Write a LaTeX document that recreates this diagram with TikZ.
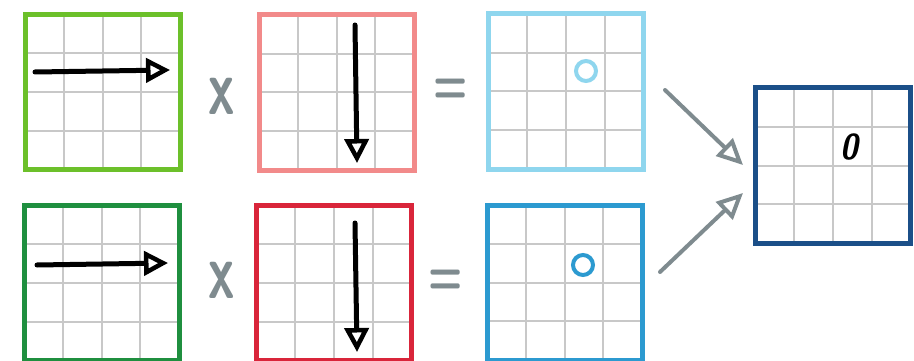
\documentclass[tikz,border=0pt]{standalone}
\usetikzlibrary{calc,arrows.meta}
\definecolor{limeg}{HTML}{6CC02A}
\definecolor{darkg}{HTML}{1F8F3F}
\definecolor{pinkr}{HTML}{F28A8A}
\definecolor{redr}{HTML}{D9253A}
\definecolor{lblue}{HTML}{8FD6EE}
\definecolor{mblue}{HTML}{2C9AD0}
\definecolor{dblue}{HTML}{1B4F88}
\definecolor{gridc}{HTML}{C8C8C8}
\definecolor{greyc}{HTML}{7F8B8F}
\tikzset{
  gbox/.style={draw=#1, rectangle, minimum width=155pt, minimum height=155pt,
    inner sep=0pt, line width=5pt, fill=white,
    path picture={
      \foreach \i in {1,2,3}{
        \draw[gridc, line width=2pt]
          ($(path picture bounding box.south west)!\i/4!(path picture bounding box.south east)$) --
          ($(path picture bounding box.north west)!\i/4!(path picture bounding box.north east)$);
        \draw[gridc, line width=2pt]
          ($(path picture bounding box.south west)!\i/4!(path picture bounding box.north west)$) --
          ($(path picture bounding box.south east)!\i/4!(path picture bounding box.north east)$);
      }}},
  vecarrow/.style={black, line width=5pt, line cap=round,
    -{Triangle[open, length=24pt, width=24pt, line width=4.5pt]}},
  flowarrow/.style={greyc, line width=4pt, line cap=round,
    -{Triangle[open, length=26pt, width=24pt, line width=4pt]}},
  optext/.style={text=greyc, inner sep=0pt},
  dotc/.style={draw=#1, line width=4pt, circle, minimum size=20pt, inner sep=0pt},
}
\begin{document}
\begin{tikzpicture}[x=1pt, y=-1pt]
\useasboundingbox (0,0) rectangle (914,361);
% boxes
\node[gbox=limeg] (a1) at (102.5,92) {};
\node[gbox=pinkr] (b1) at (336.5,92.5) {};
\node[gbox=lblue] (c1) at (566,91.5) {};
\node[gbox=darkg] (a2) at (101.5,283) {};
\node[gbox=redr]  (b2) at (334,283) {};
\node[gbox=mblue] (c2) at (564.5,282.5) {};
\node[gbox=dblue] (d)  at (833,165.5) {};
% vector arrows
\coordinate (a1s) at (35,72);  \coordinate (a1e) at (170,70);
\coordinate (a2s) at (37,265); \coordinate (a2e) at (168,263);
\coordinate (b1s) at (355,25); \coordinate (b1e) at (357,163);
\coordinate (b2s) at (355,223); \coordinate (b2e) at (357,352);
\draw[vecarrow] (a1s) -- (a1e);
\draw[vecarrow] (a2s) -- (a2e);
\draw[vecarrow] (b1s) -- (b1e);
\draw[vecarrow] (b2s) -- (b2e);
% operators
\node[optext, font=\sffamily\bfseries\fontsize{66}{66}\selectfont] (x1) at (222,96) {\scalebox{0.8}[1.2]{x}};
\node[optext, font=\sffamily\bfseries\fontsize{66}{66}\selectfont] (x2) at (222,280) {\scalebox{0.8}[1.2]{x}};
\node[optext, font=\sffamily\bfseries\fontsize{40}{40}\selectfont] (e1) at (451,91) {\scalebox{1}[1.5]{=}};
\node[optext, font=\sffamily\bfseries\fontsize{40}{40}\selectfont] (e2) at (446,282) {\scalebox{1}[1.5]{=}};
% result marks
\node[dotc=lblue] (o1) at (586,71) {};
\node[dotc=mblue] (o2) at (583,265) {};
\node[inner sep=0pt, font=\sffamily\bfseries\slshape\fontsize{36}{36}\selectfont] (z) at (849,147) {\scalebox{0.9}[1]{0}};
% flow arrows
\coordinate (f1) at (665,90);
\coordinate (t1) at (743,165);
\coordinate (f2) at (660,272);
\coordinate (t2) at (743,193);
\draw[flowarrow] (f1) -- (t1);
\draw[flowarrow] (f2) -- (t2);
\end{tikzpicture}
\end{document}
